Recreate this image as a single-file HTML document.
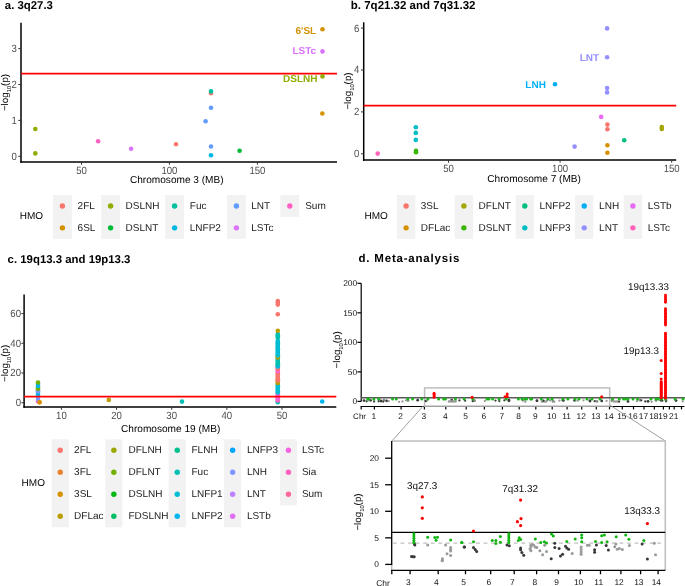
<!DOCTYPE html>
<html><head><meta charset="utf-8"><style>
html,body{margin:0;padding:0;background:#fff;}
body{width:685px;height:586px;overflow:hidden;}
svg{display:block;will-change:transform;font-family:"Liberation Sans", sans-serif;}
text{text-rendering:geometricPrecision;}
</style></head><body>
<svg width="685" height="586" viewBox="0 0 685 586">
<rect width="685" height="586" fill="#fff"/>
<text x="4.80" y="8.60" font-size="11.4" fill="#000" text-anchor="start" font-weight="bold" >a. 3q27.3</text>
<line x1="21.00" y1="22.70" x2="21.00" y2="162.75" stroke="#000" stroke-width="1.5" />
<line x1="20.25" y1="162.00" x2="337.00" y2="162.00" stroke="#000" stroke-width="1.5" />
<line x1="18.30" y1="156.30" x2="21.00" y2="156.30" stroke="#333" stroke-width="1.0" />
<text transform="translate(16.90,159.70) scale(1,1.1)" font-size="9.6" fill="#4D4D4D" text-anchor="end" font-weight="normal" >0</text>
<line x1="18.30" y1="120.40" x2="21.00" y2="120.40" stroke="#333" stroke-width="1.0" />
<text transform="translate(16.90,123.80) scale(1,1.1)" font-size="9.6" fill="#4D4D4D" text-anchor="end" font-weight="normal" >1</text>
<line x1="18.30" y1="84.50" x2="21.00" y2="84.50" stroke="#333" stroke-width="1.0" />
<text transform="translate(16.90,87.90) scale(1,1.1)" font-size="9.6" fill="#4D4D4D" text-anchor="end" font-weight="normal" >2</text>
<line x1="18.30" y1="48.60" x2="21.00" y2="48.60" stroke="#333" stroke-width="1.0" />
<text transform="translate(16.90,52.00) scale(1,1.1)" font-size="9.6" fill="#4D4D4D" text-anchor="end" font-weight="normal" >3</text>
<line x1="81.50" y1="162.00" x2="81.50" y2="164.70" stroke="#333" stroke-width="1.0" />
<text transform="translate(81.50,173.80) scale(1,1.1)" font-size="9.6" fill="#4D4D4D" text-anchor="middle" font-weight="normal" >50</text>
<line x1="169.45" y1="162.00" x2="169.45" y2="164.70" stroke="#333" stroke-width="1.0" />
<text transform="translate(169.45,173.80) scale(1,1.1)" font-size="9.6" fill="#4D4D4D" text-anchor="middle" font-weight="normal" >100</text>
<line x1="257.40" y1="162.00" x2="257.40" y2="164.70" stroke="#333" stroke-width="1.0" />
<text transform="translate(257.40,173.80) scale(1,1.1)" font-size="9.6" fill="#4D4D4D" text-anchor="middle" font-weight="normal" >150</text>
<text x="176.80" y="183.40" font-size="10.1" fill="#000" text-anchor="middle" font-weight="normal" >Chromosome 3 (MB)</text>
<text transform="translate(7.90,92.50) rotate(-90)" font-size="9.8" fill="#000" text-anchor="middle">&#8722;log<tspan font-size="5.8" dy="2.8">10</tspan><tspan dy="-2.8">(p)</tspan></text>
<line x1="21.00" y1="73.60" x2="337.00" y2="73.60" stroke="#FF0000" stroke-width="1.7" />
<circle cx="35.30" cy="129.00" r="2.3" fill="#93AA00"/>
<circle cx="35.30" cy="153.40" r="2.3" fill="#93AA00"/>
<circle cx="98.10" cy="141.30" r="2.3" fill="#FF61C3"/>
<circle cx="131.10" cy="148.70" r="2.3" fill="#DB72FB"/>
<circle cx="176.00" cy="144.30" r="2.3" fill="#F8766D"/>
<circle cx="211.00" cy="93.20" r="2.3" fill="#F8766D"/>
<circle cx="211.00" cy="91.40" r="2.3" fill="#00C19F"/>
<circle cx="211.00" cy="107.80" r="2.3" fill="#619CFF"/>
<circle cx="205.60" cy="121.20" r="2.3" fill="#619CFF"/>
<circle cx="211.00" cy="146.50" r="2.3" fill="#619CFF"/>
<circle cx="211.00" cy="155.20" r="2.3" fill="#00B9E3"/>
<circle cx="239.60" cy="150.70" r="2.3" fill="#00BA38"/>
<circle cx="322.50" cy="29.20" r="2.3" fill="#D39200"/>
<circle cx="322.50" cy="51.40" r="2.3" fill="#DB72FB"/>
<circle cx="322.50" cy="76.40" r="2.3" fill="#93AA00"/>
<circle cx="322.30" cy="113.50" r="2.3" fill="#D39200"/>
<text x="316.20" y="33.60" font-size="10" fill="#D39200" text-anchor="end" font-weight="bold" >6'SL</text>
<text x="316.20" y="54.40" font-size="10" fill="#DB72FB" text-anchor="end" font-weight="bold" >LSTc</text>
<text x="317.50" y="82.40" font-size="10" fill="#93AA00" text-anchor="end" font-weight="bold" >DSLNH</text>
<text x="19.70" y="219.20" font-size="10" fill="#000" text-anchor="start" font-weight="normal" >HMO</text>
<rect x="53.00" y="195.00" width="18.8" height="43.80" fill="#F2F2F2"/>
<circle cx="62.40" cy="205.95" r="2.7" fill="#F8766D"/>
<text x="77.60" y="208.95" font-size="10" fill="#1A1A1A" text-anchor="start" font-weight="normal" >2FL</text>
<circle cx="62.40" cy="227.85" r="2.7" fill="#D39200"/>
<text x="77.60" y="230.85" font-size="10" fill="#1A1A1A" text-anchor="start" font-weight="normal" >6SL</text>
<rect x="101.20" y="195.00" width="18.8" height="43.80" fill="#F2F2F2"/>
<circle cx="110.60" cy="205.95" r="2.7" fill="#93AA00"/>
<text x="125.60" y="208.95" font-size="10" fill="#1A1A1A" text-anchor="start" font-weight="normal" >DSLNH</text>
<circle cx="110.60" cy="227.85" r="2.7" fill="#00BA38"/>
<text x="125.60" y="230.85" font-size="10" fill="#1A1A1A" text-anchor="start" font-weight="normal" >DSLNT</text>
<rect x="165.20" y="195.00" width="18.8" height="43.80" fill="#F2F2F2"/>
<circle cx="174.60" cy="205.95" r="2.7" fill="#00C19F"/>
<text x="189.80" y="208.95" font-size="10" fill="#1A1A1A" text-anchor="start" font-weight="normal" >Fuc</text>
<circle cx="174.60" cy="227.85" r="2.7" fill="#00B9E3"/>
<text x="189.80" y="230.85" font-size="10" fill="#1A1A1A" text-anchor="start" font-weight="normal" >LNFP2</text>
<rect x="227.00" y="195.00" width="18.8" height="43.80" fill="#F2F2F2"/>
<circle cx="236.40" cy="205.95" r="2.7" fill="#619CFF"/>
<text x="251.20" y="208.95" font-size="10" fill="#1A1A1A" text-anchor="start" font-weight="normal" >LNT</text>
<circle cx="236.40" cy="227.85" r="2.7" fill="#DB72FB"/>
<text x="251.20" y="230.85" font-size="10" fill="#1A1A1A" text-anchor="start" font-weight="normal" >LSTc</text>
<rect x="280.40" y="195.00" width="18.8" height="21.90" fill="#F2F2F2"/>
<circle cx="289.80" cy="205.95" r="2.7" fill="#FF61C3"/>
<text x="305.20" y="208.95" font-size="10" fill="#1A1A1A" text-anchor="start" font-weight="normal" >Sum</text>
<text x="350.80" y="8.60" font-size="11.5" fill="#000" text-anchor="start" font-weight="bold" >b. 7q21.32 and 7q31.32</text>
<line x1="363.70" y1="22.30" x2="363.70" y2="160.75" stroke="#000" stroke-width="1.5" />
<line x1="362.95" y1="160.00" x2="676.20" y2="160.00" stroke="#000" stroke-width="1.5" />
<line x1="361.00" y1="153.80" x2="363.70" y2="153.80" stroke="#333" stroke-width="1.0" />
<text transform="translate(359.40,157.20) scale(1,1.1)" font-size="9.6" fill="#4D4D4D" text-anchor="end" font-weight="normal" >0</text>
<line x1="361.00" y1="111.90" x2="363.70" y2="111.90" stroke="#333" stroke-width="1.0" />
<text transform="translate(359.40,115.30) scale(1,1.1)" font-size="9.6" fill="#4D4D4D" text-anchor="end" font-weight="normal" >2</text>
<line x1="361.00" y1="70.00" x2="363.70" y2="70.00" stroke="#333" stroke-width="1.0" />
<text transform="translate(359.40,73.40) scale(1,1.1)" font-size="9.6" fill="#4D4D4D" text-anchor="end" font-weight="normal" >4</text>
<line x1="361.00" y1="28.10" x2="363.70" y2="28.10" stroke="#333" stroke-width="1.0" />
<text transform="translate(359.40,31.50) scale(1,1.1)" font-size="9.6" fill="#4D4D4D" text-anchor="end" font-weight="normal" >6</text>
<line x1="448.50" y1="160.00" x2="448.50" y2="162.70" stroke="#333" stroke-width="1.0" />
<text transform="translate(448.50,171.80) scale(1,1.1)" font-size="9.6" fill="#4D4D4D" text-anchor="middle" font-weight="normal" >50</text>
<line x1="560.10" y1="160.00" x2="560.10" y2="162.70" stroke="#333" stroke-width="1.0" />
<text transform="translate(560.10,171.80) scale(1,1.1)" font-size="9.6" fill="#4D4D4D" text-anchor="middle" font-weight="normal" >100</text>
<line x1="671.70" y1="160.00" x2="671.70" y2="162.70" stroke="#333" stroke-width="1.0" />
<text transform="translate(671.70,171.80) scale(1,1.1)" font-size="9.6" fill="#4D4D4D" text-anchor="middle" font-weight="normal" >150</text>
<text x="534.10" y="182.40" font-size="10.1" fill="#000" text-anchor="middle" font-weight="normal" >Chromosome 7 (MB)</text>
<text transform="translate(351.20,91.00) rotate(-90)" font-size="9.8" fill="#000" text-anchor="middle">&#8722;log<tspan font-size="5.8" dy="2.8">10</tspan><tspan dy="-2.8">(p)</tspan></text>
<line x1="363.70" y1="105.60" x2="676.20" y2="105.60" stroke="#FF0000" stroke-width="1.7" />
<circle cx="377.70" cy="153.60" r="2.3" fill="#FF62BC"/>
<circle cx="415.80" cy="127.20" r="2.3" fill="#00BFC4"/>
<circle cx="415.80" cy="132.90" r="2.3" fill="#00BFC4"/>
<circle cx="415.80" cy="139.90" r="2.3" fill="#00BFC4"/>
<circle cx="416.00" cy="150.90" r="2.3" fill="#39B600"/>
<circle cx="416.00" cy="152.30" r="2.3" fill="#39B600"/>
<circle cx="607.10" cy="28.40" r="2.3" fill="#9590FF"/>
<circle cx="607.10" cy="57.30" r="2.3" fill="#9590FF"/>
<circle cx="607.10" cy="88.00" r="2.3" fill="#9590FF"/>
<circle cx="607.10" cy="92.40" r="2.3" fill="#9590FF"/>
<circle cx="574.60" cy="146.60" r="2.3" fill="#9590FF"/>
<circle cx="555.00" cy="84.30" r="2.3" fill="#00B0F6"/>
<circle cx="601.20" cy="116.90" r="2.3" fill="#E76BF3"/>
<circle cx="607.40" cy="124.60" r="2.3" fill="#F8766D"/>
<circle cx="607.40" cy="129.30" r="2.3" fill="#F8766D"/>
<circle cx="624.20" cy="140.30" r="2.3" fill="#00BF7D"/>
<circle cx="661.80" cy="127.10" r="2.3" fill="#A3A500"/>
<circle cx="661.80" cy="128.90" r="2.3" fill="#A3A500"/>
<circle cx="607.40" cy="145.20" r="2.3" fill="#D89000"/>
<circle cx="607.40" cy="152.70" r="2.3" fill="#D89000"/>
<text x="599.20" y="60.60" font-size="10" fill="#9590FF" text-anchor="end" font-weight="bold" >LNT</text>
<text x="545.90" y="87.70" font-size="10" fill="#00B0F6" text-anchor="end" font-weight="bold" >LNH</text>
<text x="364.50" y="219.30" font-size="10" fill="#000" text-anchor="start" font-weight="normal" >HMO</text>
<rect x="396.90" y="195.00" width="18.4" height="43.80" fill="#F2F2F2"/>
<circle cx="406.10" cy="205.95" r="2.7" fill="#F8766D"/>
<text x="420.80" y="208.95" font-size="10" fill="#1A1A1A" text-anchor="start" font-weight="normal" >3SL</text>
<circle cx="406.10" cy="227.85" r="2.7" fill="#D89000"/>
<text x="420.80" y="230.85" font-size="10" fill="#1A1A1A" text-anchor="start" font-weight="normal" >DFLac</text>
<rect x="454.70" y="195.00" width="18.4" height="43.80" fill="#F2F2F2"/>
<circle cx="463.90" cy="205.95" r="2.7" fill="#A3A500"/>
<text x="478.60" y="208.95" font-size="10" fill="#1A1A1A" text-anchor="start" font-weight="normal" >DFLNT</text>
<circle cx="463.90" cy="227.85" r="2.7" fill="#39B600"/>
<text x="478.60" y="230.85" font-size="10" fill="#1A1A1A" text-anchor="start" font-weight="normal" >DSLNT</text>
<rect x="515.60" y="195.00" width="18.4" height="43.80" fill="#F2F2F2"/>
<circle cx="524.80" cy="205.95" r="2.7" fill="#00BF7D"/>
<text x="539.50" y="208.95" font-size="10" fill="#1A1A1A" text-anchor="start" font-weight="normal" >LNFP2</text>
<circle cx="524.80" cy="227.85" r="2.7" fill="#00BFC4"/>
<text x="539.50" y="230.85" font-size="10" fill="#1A1A1A" text-anchor="start" font-weight="normal" >LNFP3</text>
<rect x="575.00" y="195.00" width="18.4" height="43.80" fill="#F2F2F2"/>
<circle cx="584.20" cy="205.95" r="2.7" fill="#00B0F6"/>
<text x="599.10" y="208.95" font-size="10" fill="#1A1A1A" text-anchor="start" font-weight="normal" >LNH</text>
<circle cx="584.20" cy="227.85" r="2.7" fill="#9590FF"/>
<text x="599.10" y="230.85" font-size="10" fill="#1A1A1A" text-anchor="start" font-weight="normal" >LNT</text>
<rect x="623.70" y="195.00" width="18.4" height="43.80" fill="#F2F2F2"/>
<circle cx="632.90" cy="205.95" r="2.7" fill="#E76BF3"/>
<text x="647.70" y="208.95" font-size="10" fill="#1A1A1A" text-anchor="start" font-weight="normal" >LSTb</text>
<circle cx="632.90" cy="227.85" r="2.7" fill="#FF62BC"/>
<text x="647.70" y="230.85" font-size="10" fill="#1A1A1A" text-anchor="start" font-weight="normal" >LSTc</text>
<text x="7.60" y="262.80" font-size="11.4" fill="#000" text-anchor="start" font-weight="bold" >c. 19q13.3 and 19p13.3</text>
<line x1="24.10" y1="294.50" x2="24.10" y2="407.85" stroke="#000" stroke-width="1.5" />
<line x1="23.35" y1="407.10" x2="336.30" y2="407.10" stroke="#000" stroke-width="1.5" />
<line x1="21.40" y1="402.70" x2="24.10" y2="402.70" stroke="#333" stroke-width="1.0" />
<text transform="translate(21.00,406.10) scale(1,1.1)" font-size="9.6" fill="#4D4D4D" text-anchor="end" font-weight="normal" >0</text>
<line x1="21.40" y1="372.99" x2="24.10" y2="372.99" stroke="#333" stroke-width="1.0" />
<text transform="translate(21.00,376.39) scale(1,1.1)" font-size="9.6" fill="#4D4D4D" text-anchor="end" font-weight="normal" >20</text>
<line x1="21.40" y1="343.28" x2="24.10" y2="343.28" stroke="#333" stroke-width="1.0" />
<text transform="translate(21.00,346.68) scale(1,1.1)" font-size="9.6" fill="#4D4D4D" text-anchor="end" font-weight="normal" >40</text>
<line x1="21.40" y1="313.57" x2="24.10" y2="313.57" stroke="#333" stroke-width="1.0" />
<text transform="translate(21.00,316.97) scale(1,1.1)" font-size="9.6" fill="#4D4D4D" text-anchor="end" font-weight="normal" >60</text>
<line x1="61.40" y1="407.10" x2="61.40" y2="409.80" stroke="#333" stroke-width="1.0" />
<text transform="translate(61.40,419.20) scale(1,1.1)" font-size="9.6" fill="#4D4D4D" text-anchor="middle" font-weight="normal" >10</text>
<line x1="116.55" y1="407.10" x2="116.55" y2="409.80" stroke="#333" stroke-width="1.0" />
<text transform="translate(116.55,419.20) scale(1,1.1)" font-size="9.6" fill="#4D4D4D" text-anchor="middle" font-weight="normal" >20</text>
<line x1="171.70" y1="407.10" x2="171.70" y2="409.80" stroke="#333" stroke-width="1.0" />
<text transform="translate(171.70,419.20) scale(1,1.1)" font-size="9.6" fill="#4D4D4D" text-anchor="middle" font-weight="normal" >30</text>
<line x1="226.85" y1="407.10" x2="226.85" y2="409.80" stroke="#333" stroke-width="1.0" />
<text transform="translate(226.85,419.20) scale(1,1.1)" font-size="9.6" fill="#4D4D4D" text-anchor="middle" font-weight="normal" >40</text>
<line x1="282.00" y1="407.10" x2="282.00" y2="409.80" stroke="#333" stroke-width="1.0" />
<text transform="translate(282.00,419.20) scale(1,1.1)" font-size="9.6" fill="#4D4D4D" text-anchor="middle" font-weight="normal" >50</text>
<text x="170.70" y="431.50" font-size="10.1" fill="#000" text-anchor="middle" font-weight="normal" >Chromosome 19 (MB)</text>
<text transform="translate(7.90,363.30) rotate(-90)" font-size="9.8" fill="#000" text-anchor="middle">&#8722;log<tspan font-size="5.8" dy="2.8">10</tspan><tspan dy="-2.8">(p)</tspan></text>
<circle cx="39.50" cy="402.20" r="2.3" fill="#D69100"/>
<circle cx="38.00" cy="401.30" r="2.3" fill="#F863DF"/>
<circle cx="38.00" cy="399.00" r="2.3" fill="#7F96FF"/>
<circle cx="38.00" cy="395.00" r="2.3" fill="#00B5EE"/>
<circle cx="38.00" cy="393.00" r="2.3" fill="#00B5EE"/>
<circle cx="38.00" cy="391.20" r="2.3" fill="#7F96FF"/>
<circle cx="38.00" cy="390.20" r="2.3" fill="#7F96FF"/>
<circle cx="38.00" cy="388.80" r="2.3" fill="#6FB000"/>
<circle cx="38.00" cy="387.60" r="2.3" fill="#6FB000"/>
<circle cx="38.00" cy="386.00" r="2.3" fill="#00B5EE"/>
<circle cx="38.00" cy="384.00" r="2.3" fill="#00B5EE"/>
<circle cx="38.00" cy="382.50" r="2.3" fill="#6FB000"/>
<circle cx="39.50" cy="402.20" r="2.3" fill="#D69100"/>
<circle cx="108.80" cy="399.90" r="2.3" fill="#BC9D00"/>
<circle cx="182.00" cy="401.60" r="2.3" fill="#00C0B4"/>
<circle cx="322.20" cy="401.50" r="2.3" fill="#00B5EE"/>
<circle cx="277.80" cy="402.20" r="2.3" fill="#00C0B4"/>
<circle cx="277.80" cy="401.00" r="2.3" fill="#00C0B4"/>
<circle cx="277.80" cy="400.50" r="2.3" fill="#FF62BF"/>
<circle cx="277.80" cy="399.30" r="2.3" fill="#FF62BF"/>
<circle cx="277.80" cy="398.10" r="2.3" fill="#FF62BF"/>
<circle cx="277.80" cy="398.00" r="2.3" fill="#F863DF"/>
<circle cx="277.80" cy="396.80" r="2.3" fill="#F863DF"/>
<circle cx="277.80" cy="395.60" r="2.3" fill="#F863DF"/>
<circle cx="277.80" cy="394.40" r="2.3" fill="#F863DF"/>
<circle cx="277.80" cy="393.20" r="2.3" fill="#F863DF"/>
<circle cx="277.80" cy="392.50" r="2.3" fill="#00BDD4"/>
<circle cx="277.80" cy="391.30" r="2.3" fill="#00BDD4"/>
<circle cx="277.80" cy="390.10" r="2.3" fill="#00BDD4"/>
<circle cx="277.80" cy="388.90" r="2.3" fill="#00BDD4"/>
<circle cx="277.80" cy="387.70" r="2.3" fill="#00BDD4"/>
<circle cx="277.80" cy="386.50" r="2.3" fill="#00BDD4"/>
<circle cx="277.80" cy="385.30" r="2.3" fill="#00BDD4"/>
<circle cx="277.80" cy="384.10" r="2.3" fill="#00BDD4"/>
<circle cx="277.80" cy="383.00" r="2.3" fill="#BC9D00"/>
<circle cx="277.80" cy="381.80" r="2.3" fill="#BC9D00"/>
<circle cx="277.80" cy="380.60" r="2.3" fill="#BC9D00"/>
<circle cx="277.80" cy="380.50" r="2.3" fill="#F8766D"/>
<circle cx="277.80" cy="379.30" r="2.3" fill="#F8766D"/>
<circle cx="277.80" cy="378.10" r="2.3" fill="#F8766D"/>
<circle cx="277.80" cy="376.90" r="2.3" fill="#F8766D"/>
<circle cx="277.80" cy="375.70" r="2.3" fill="#F8766D"/>
<circle cx="277.80" cy="374.50" r="2.3" fill="#F8766D"/>
<circle cx="277.80" cy="373.30" r="2.3" fill="#F8766D"/>
<circle cx="277.80" cy="372.10" r="2.3" fill="#F8766D"/>
<circle cx="277.80" cy="371.00" r="2.3" fill="#F863DF"/>
<circle cx="277.80" cy="369.80" r="2.3" fill="#F863DF"/>
<circle cx="277.80" cy="369.00" r="2.3" fill="#F8766D"/>
<circle cx="277.80" cy="367.80" r="2.3" fill="#F8766D"/>
<circle cx="277.80" cy="366.60" r="2.3" fill="#F8766D"/>
<circle cx="277.80" cy="366.50" r="2.3" fill="#00B5EE"/>
<circle cx="277.80" cy="365.30" r="2.3" fill="#00B5EE"/>
<circle cx="277.80" cy="364.50" r="2.3" fill="#00C0B4"/>
<circle cx="277.80" cy="363.30" r="2.3" fill="#00C0B4"/>
<circle cx="277.80" cy="362.10" r="2.3" fill="#00C0B4"/>
<circle cx="277.80" cy="360.90" r="2.3" fill="#00C0B4"/>
<circle cx="277.80" cy="359.70" r="2.3" fill="#00C0B4"/>
<circle cx="277.80" cy="358.50" r="2.3" fill="#00C0B4"/>
<circle cx="277.80" cy="357.50" r="2.3" fill="#BC9D00"/>
<circle cx="277.80" cy="356.30" r="2.3" fill="#BC9D00"/>
<circle cx="277.80" cy="355.50" r="2.3" fill="#00BDD4"/>
<circle cx="277.80" cy="354.30" r="2.3" fill="#00BDD4"/>
<circle cx="277.80" cy="353.10" r="2.3" fill="#00BDD4"/>
<circle cx="277.80" cy="351.90" r="2.3" fill="#00BDD4"/>
<circle cx="277.80" cy="350.70" r="2.3" fill="#00BDD4"/>
<circle cx="277.80" cy="349.50" r="2.3" fill="#00BDD4"/>
<circle cx="277.80" cy="348.30" r="2.3" fill="#00BDD4"/>
<circle cx="277.80" cy="347.10" r="2.3" fill="#00BDD4"/>
<circle cx="277.80" cy="345.90" r="2.3" fill="#00BDD4"/>
<circle cx="277.80" cy="344.70" r="2.3" fill="#00BDD4"/>
<circle cx="277.80" cy="343.50" r="2.3" fill="#00BDD4"/>
<circle cx="277.80" cy="342.30" r="2.3" fill="#00BDD4"/>
<circle cx="277.80" cy="341.10" r="2.3" fill="#00BDD4"/>
<circle cx="277.80" cy="337.70" r="2.3" fill="#00C0B4"/>
<circle cx="277.80" cy="336.50" r="2.3" fill="#00C0B4"/>
<circle cx="277.80" cy="335.30" r="2.3" fill="#00C0B4"/>
<circle cx="277.80" cy="334.10" r="2.3" fill="#00C0B4"/>
<circle cx="277.80" cy="330.70" r="2.3" fill="#BC9D00"/>
<circle cx="277.80" cy="301.00" r="2.3" fill="#F8766D"/>
<circle cx="277.80" cy="302.80" r="2.3" fill="#F8766D"/>
<circle cx="277.80" cy="304.60" r="2.3" fill="#F8766D"/>
<circle cx="277.80" cy="314.30" r="2.3" fill="#F8766D"/>
<line x1="24.10" y1="396.70" x2="336.30" y2="396.70" stroke="#FF0000" stroke-width="1.7" />
<text x="21.60" y="486.10" font-size="10" fill="#000" text-anchor="start" font-weight="normal" >HMO</text>
<rect x="51.70" y="439.30" width="17.1" height="88.00" fill="#F2F2F2"/>
<circle cx="60.25" cy="450.30" r="2.7" fill="#F8766D"/>
<text x="74.10" y="453.30" font-size="10" fill="#1A1A1A" text-anchor="start" font-weight="normal" >2FL</text>
<circle cx="60.25" cy="472.30" r="2.7" fill="#E9842C"/>
<text x="74.10" y="475.30" font-size="10" fill="#1A1A1A" text-anchor="start" font-weight="normal" >3FL</text>
<circle cx="60.25" cy="494.30" r="2.7" fill="#D69100"/>
<text x="74.10" y="497.30" font-size="10" fill="#1A1A1A" text-anchor="start" font-weight="normal" >3SL</text>
<circle cx="60.25" cy="516.30" r="2.7" fill="#BC9D00"/>
<text x="74.10" y="519.30" font-size="10" fill="#1A1A1A" text-anchor="start" font-weight="normal" >DFLac</text>
<rect x="105.30" y="439.30" width="17.1" height="88.00" fill="#F2F2F2"/>
<circle cx="113.85" cy="450.30" r="2.7" fill="#9CA700"/>
<text x="128.50" y="453.30" font-size="10" fill="#1A1A1A" text-anchor="start" font-weight="normal" >DFLNH</text>
<circle cx="113.85" cy="472.30" r="2.7" fill="#6FB000"/>
<text x="128.50" y="475.30" font-size="10" fill="#1A1A1A" text-anchor="start" font-weight="normal" >DFLNT</text>
<circle cx="113.85" cy="494.30" r="2.7" fill="#00B813"/>
<text x="128.50" y="497.30" font-size="10" fill="#1A1A1A" text-anchor="start" font-weight="normal" >DSLNH</text>
<circle cx="113.85" cy="516.30" r="2.7" fill="#00BD61"/>
<text x="128.50" y="519.30" font-size="10" fill="#1A1A1A" text-anchor="start" font-weight="normal" >FDSLNH</text>
<rect x="168.70" y="439.30" width="17.1" height="88.00" fill="#F2F2F2"/>
<circle cx="177.25" cy="450.30" r="2.7" fill="#00C08E"/>
<text x="191.50" y="453.30" font-size="10" fill="#1A1A1A" text-anchor="start" font-weight="normal" >FLNH</text>
<circle cx="177.25" cy="472.30" r="2.7" fill="#00C0B4"/>
<text x="191.50" y="475.30" font-size="10" fill="#1A1A1A" text-anchor="start" font-weight="normal" >Fuc</text>
<circle cx="177.25" cy="494.30" r="2.7" fill="#00BDD4"/>
<text x="191.50" y="497.30" font-size="10" fill="#1A1A1A" text-anchor="start" font-weight="normal" >LNFP1</text>
<circle cx="177.25" cy="516.30" r="2.7" fill="#00B5EE"/>
<text x="191.50" y="519.30" font-size="10" fill="#1A1A1A" text-anchor="start" font-weight="normal" >LNFP2</text>
<rect x="224.10" y="439.30" width="17.1" height="88.00" fill="#F2F2F2"/>
<circle cx="232.65" cy="450.30" r="2.7" fill="#00A7FF"/>
<text x="246.90" y="453.30" font-size="10" fill="#1A1A1A" text-anchor="start" font-weight="normal" >LNFP3</text>
<circle cx="232.65" cy="472.30" r="2.7" fill="#7F96FF"/>
<text x="246.90" y="475.30" font-size="10" fill="#1A1A1A" text-anchor="start" font-weight="normal" >LNH</text>
<circle cx="232.65" cy="494.30" r="2.7" fill="#BC81FF"/>
<text x="246.90" y="497.30" font-size="10" fill="#1A1A1A" text-anchor="start" font-weight="normal" >LNT</text>
<circle cx="232.65" cy="516.30" r="2.7" fill="#E26EF7"/>
<text x="246.90" y="519.30" font-size="10" fill="#1A1A1A" text-anchor="start" font-weight="normal" >LSTb</text>
<rect x="279.90" y="439.30" width="17.1" height="66.00" fill="#F2F2F2"/>
<circle cx="288.45" cy="450.30" r="2.7" fill="#F863DF"/>
<text x="301.90" y="453.30" font-size="10" fill="#1A1A1A" text-anchor="start" font-weight="normal" >LSTc</text>
<circle cx="288.45" cy="472.30" r="2.7" fill="#FF62BF"/>
<text x="301.90" y="475.30" font-size="10" fill="#1A1A1A" text-anchor="start" font-weight="normal" >Sia</text>
<circle cx="288.45" cy="494.30" r="2.7" fill="#FF6A9A"/>
<text x="301.90" y="497.30" font-size="10" fill="#1A1A1A" text-anchor="start" font-weight="normal" >Sum</text>
<text x="358.5" y="262.2" font-size="11.5" font-weight="bold" letter-spacing="0.8" fill="#000">d. Meta-analysis</text>
<line x1="361.20" y1="283.30" x2="361.20" y2="401.40" stroke="#000" stroke-width="1.2" />
<line x1="357.40" y1="401.40" x2="361.20" y2="401.40" stroke="#000" stroke-width="1.2" />
<text x="357.20" y="404.40" font-size="8.4" fill="#111" text-anchor="end" font-weight="normal" >0</text>
<line x1="357.40" y1="371.88" x2="361.20" y2="371.88" stroke="#000" stroke-width="1.2" />
<text x="357.20" y="374.88" font-size="8.4" fill="#111" text-anchor="end" font-weight="normal" >50</text>
<line x1="357.40" y1="342.35" x2="361.20" y2="342.35" stroke="#000" stroke-width="1.2" />
<text x="357.20" y="345.35" font-size="8.4" fill="#111" text-anchor="end" font-weight="normal" >100</text>
<line x1="357.40" y1="312.82" x2="361.20" y2="312.82" stroke="#000" stroke-width="1.2" />
<text x="357.20" y="315.82" font-size="8.4" fill="#111" text-anchor="end" font-weight="normal" >150</text>
<line x1="357.40" y1="283.30" x2="361.20" y2="283.30" stroke="#000" stroke-width="1.2" />
<text x="357.20" y="286.30" font-size="8.4" fill="#111" text-anchor="end" font-weight="normal" >200</text>
<text transform="translate(340.00,349.80) rotate(-90)" font-size="9.8" fill="#000" text-anchor="middle">&#8722;log<tspan font-size="5.8" dy="2.8">10</tspan><tspan dy="-2.8">(p)</tspan></text>
<line x1="360.60" y1="406.50" x2="684.50" y2="406.50" stroke="#000" stroke-width="1.2" />
<line x1="361.20" y1="406.50" x2="361.20" y2="409.40" stroke="#000" stroke-width="1.2" />
<line x1="374.40" y1="406.50" x2="374.40" y2="409.40" stroke="#000" stroke-width="1.2" />
<text x="373.90" y="419.00" font-size="8.4" fill="#111" text-anchor="middle" font-weight="normal" >1</text>
<line x1="401.10" y1="406.50" x2="401.10" y2="409.40" stroke="#000" stroke-width="1.2" />
<text x="400.60" y="419.00" font-size="8.4" fill="#111" text-anchor="middle" font-weight="normal" >2</text>
<line x1="424.40" y1="406.50" x2="424.40" y2="409.40" stroke="#000" stroke-width="1.2" />
<text x="423.90" y="419.00" font-size="8.4" fill="#111" text-anchor="middle" font-weight="normal" >3</text>
<line x1="445.80" y1="406.50" x2="445.80" y2="409.40" stroke="#000" stroke-width="1.2" />
<text x="445.30" y="419.00" font-size="8.4" fill="#111" text-anchor="middle" font-weight="normal" >4</text>
<line x1="466.20" y1="406.50" x2="466.20" y2="409.40" stroke="#000" stroke-width="1.2" />
<text x="465.70" y="419.00" font-size="8.4" fill="#111" text-anchor="middle" font-weight="normal" >5</text>
<line x1="484.40" y1="406.50" x2="484.40" y2="409.40" stroke="#000" stroke-width="1.2" />
<text x="483.90" y="419.00" font-size="8.4" fill="#111" text-anchor="middle" font-weight="normal" >6</text>
<line x1="502.40" y1="406.50" x2="502.40" y2="409.40" stroke="#000" stroke-width="1.2" />
<text x="501.90" y="419.00" font-size="8.4" fill="#111" text-anchor="middle" font-weight="normal" >7</text>
<line x1="519.20" y1="406.50" x2="519.20" y2="409.40" stroke="#000" stroke-width="1.2" />
<text x="518.70" y="419.00" font-size="8.4" fill="#111" text-anchor="middle" font-weight="normal" >8</text>
<line x1="535.80" y1="406.50" x2="535.80" y2="409.40" stroke="#000" stroke-width="1.2" />
<text x="535.30" y="419.00" font-size="8.4" fill="#111" text-anchor="middle" font-weight="normal" >9</text>
<line x1="552.20" y1="406.50" x2="552.20" y2="409.40" stroke="#000" stroke-width="1.2" />
<text x="551.70" y="419.00" font-size="8.4" fill="#111" text-anchor="middle" font-weight="normal" >10</text>
<line x1="567.10" y1="406.50" x2="567.10" y2="409.40" stroke="#000" stroke-width="1.2" />
<text x="566.60" y="419.00" font-size="8.4" fill="#111" text-anchor="middle" font-weight="normal" >11</text>
<line x1="581.70" y1="406.50" x2="581.70" y2="409.40" stroke="#000" stroke-width="1.2" />
<text x="581.20" y="419.00" font-size="8.4" fill="#111" text-anchor="middle" font-weight="normal" >12</text>
<line x1="596.30" y1="406.50" x2="596.30" y2="409.40" stroke="#000" stroke-width="1.2" />
<text x="595.80" y="419.00" font-size="8.4" fill="#111" text-anchor="middle" font-weight="normal" >13</text>
<line x1="609.50" y1="406.50" x2="609.50" y2="409.40" stroke="#000" stroke-width="1.2" />
<text x="609.00" y="419.00" font-size="8.4" fill="#111" text-anchor="middle" font-weight="normal" >14</text>
<line x1="622.30" y1="406.50" x2="622.30" y2="409.40" stroke="#000" stroke-width="1.2" />
<text x="621.80" y="419.00" font-size="8.4" fill="#111" text-anchor="middle" font-weight="normal" >15</text>
<line x1="633.50" y1="406.50" x2="633.50" y2="409.40" stroke="#000" stroke-width="1.2" />
<text x="633.00" y="419.00" font-size="8.4" fill="#111" text-anchor="middle" font-weight="normal" >16</text>
<line x1="644.00" y1="406.50" x2="644.00" y2="409.40" stroke="#000" stroke-width="1.2" />
<text x="643.50" y="419.00" font-size="8.4" fill="#111" text-anchor="middle" font-weight="normal" >17</text>
<line x1="654.30" y1="406.50" x2="654.30" y2="409.40" stroke="#000" stroke-width="1.2" />
<text x="653.80" y="419.00" font-size="8.4" fill="#111" text-anchor="middle" font-weight="normal" >18</text>
<line x1="663.40" y1="406.50" x2="663.40" y2="409.40" stroke="#000" stroke-width="1.2" />
<text x="662.90" y="419.00" font-size="8.4" fill="#111" text-anchor="middle" font-weight="normal" >19</text>
<line x1="669.40" y1="406.50" x2="669.40" y2="409.40" stroke="#000" stroke-width="1.2" />
<line x1="674.20" y1="406.50" x2="674.20" y2="409.40" stroke="#000" stroke-width="1.2" />
<text x="673.70" y="419.00" font-size="8.4" fill="#111" text-anchor="middle" font-weight="normal" >21</text>
<line x1="681.50" y1="406.50" x2="681.50" y2="409.40" stroke="#000" stroke-width="1.2" />
<text x="366.00" y="418.90" font-size="8" fill="#111" text-anchor="end" font-weight="normal" >Chr</text>
<rect x="424.6" y="387.9" width="185.1" height="18.2" fill="none" stroke="#BDBDBD" stroke-width="1.5"/>
<line x1="423.40" y1="405.80" x2="391.90" y2="441.00" stroke="#A0A0A0" stroke-width="1.0" />
<line x1="610.20" y1="405.30" x2="665.30" y2="441.00" stroke="#A0A0A0" stroke-width="1.0" />
<circle cx="364.00" cy="400.55" r="1.4" fill="#3A3A3A"/>
<circle cx="369.70" cy="400.31" r="1.4" fill="#8C8C8C"/>
<circle cx="381.00" cy="401.01" r="1.4" fill="#3A3A3A"/>
<circle cx="384.00" cy="400.20" r="1.4" fill="#8C8C8C"/>
<circle cx="386.60" cy="400.85" r="1.4" fill="#3A3A3A"/>
<circle cx="408.00" cy="400.61" r="1.4" fill="#8C8C8C"/>
<circle cx="417.70" cy="400.18" r="1.4" fill="#3A3A3A"/>
<circle cx="426.40" cy="400.81" r="1.4" fill="#8C8C8C"/>
<circle cx="451.70" cy="400.15" r="1.4" fill="#3A3A3A"/>
<circle cx="474.60" cy="400.71" r="1.4" fill="#8C8C8C"/>
<circle cx="509.00" cy="400.20" r="1.4" fill="#3A3A3A"/>
<circle cx="523.00" cy="400.23" r="1.4" fill="#8C8C8C"/>
<circle cx="537.00" cy="400.69" r="1.4" fill="#3A3A3A"/>
<circle cx="553.00" cy="401.26" r="1.4" fill="#8C8C8C"/>
<circle cx="563.00" cy="400.27" r="1.4" fill="#3A3A3A"/>
<circle cx="575.00" cy="400.41" r="1.4" fill="#8C8C8C"/>
<circle cx="590.00" cy="400.98" r="1.4" fill="#3A3A3A"/>
<circle cx="597.00" cy="401.43" r="1.4" fill="#8C8C8C"/>
<circle cx="601.70" cy="400.91" r="1.4" fill="#3A3A3A"/>
<circle cx="612.00" cy="400.66" r="1.4" fill="#8C8C8C"/>
<circle cx="628.00" cy="401.47" r="1.4" fill="#3A3A3A"/>
<circle cx="640.00" cy="400.17" r="1.4" fill="#8C8C8C"/>
<circle cx="648.00" cy="401.30" r="1.4" fill="#3A3A3A"/>
<circle cx="656.00" cy="400.51" r="1.4" fill="#8C8C8C"/>
<circle cx="661.00" cy="400.30" r="1.4" fill="#3A3A3A"/>
<circle cx="666.00" cy="400.26" r="1.4" fill="#8C8C8C"/>
<circle cx="676.00" cy="400.53" r="1.4" fill="#3A3A3A"/>
<circle cx="449.00" cy="401.50" r="1.3" fill="#9A9A9A"/>
<circle cx="451.00" cy="401.50" r="1.3" fill="#9A9A9A"/>
<circle cx="453.00" cy="401.50" r="1.3" fill="#9A9A9A"/>
<circle cx="455.00" cy="401.50" r="1.3" fill="#9A9A9A"/>
<circle cx="542.00" cy="401.50" r="1.3" fill="#9A9A9A"/>
<circle cx="544.00" cy="401.50" r="1.3" fill="#9A9A9A"/>
<circle cx="546.00" cy="401.50" r="1.3" fill="#9A9A9A"/>
<circle cx="614.00" cy="401.50" r="1.3" fill="#9A9A9A"/>
<circle cx="616.00" cy="401.50" r="1.3" fill="#9A9A9A"/>
<circle cx="618.00" cy="401.50" r="1.3" fill="#9A9A9A"/>
<circle cx="366.63" cy="401.32" r="1.15" fill="#3C3C3C"/>
<circle cx="370.94" cy="400.40" r="1.15" fill="#3C3C3C"/>
<circle cx="374.14" cy="401.39" r="1.15" fill="#3C3C3C"/>
<circle cx="378.64" cy="401.24" r="1.15" fill="#3C3C3C"/>
<circle cx="383.23" cy="401.57" r="1.15" fill="#3C3C3C"/>
<circle cx="388.67" cy="401.22" r="1.15" fill="#9A9A9A"/>
<circle cx="399.06" cy="401.87" r="1.15" fill="#9A9A9A"/>
<circle cx="402.48" cy="401.51" r="1.15" fill="#9A9A9A"/>
<circle cx="406.01" cy="400.36" r="1.15" fill="#9A9A9A"/>
<circle cx="425.53" cy="401.03" r="1.15" fill="#3C3C3C"/>
<circle cx="450.49" cy="400.92" r="1.15" fill="#9A9A9A"/>
<circle cx="455.83" cy="401.04" r="1.15" fill="#9A9A9A"/>
<circle cx="459.41" cy="400.39" r="1.15" fill="#3C3C3C"/>
<circle cx="465.10" cy="400.70" r="1.15" fill="#3C3C3C"/>
<circle cx="472.75" cy="401.18" r="1.15" fill="#3C3C3C"/>
<circle cx="484.87" cy="400.96" r="1.15" fill="#9A9A9A"/>
<circle cx="495.48" cy="400.58" r="1.15" fill="#3C3C3C"/>
<circle cx="499.29" cy="401.08" r="1.15" fill="#3C3C3C"/>
<circle cx="504.35" cy="400.31" r="1.15" fill="#3C3C3C"/>
<circle cx="508.82" cy="401.21" r="1.15" fill="#3C3C3C"/>
<circle cx="525.32" cy="401.74" r="1.15" fill="#9A9A9A"/>
<circle cx="536.85" cy="400.94" r="1.15" fill="#3C3C3C"/>
<circle cx="543.43" cy="400.63" r="1.15" fill="#3C3C3C"/>
<circle cx="546.99" cy="400.38" r="1.15" fill="#9A9A9A"/>
<circle cx="550.00" cy="400.46" r="1.15" fill="#9A9A9A"/>
<circle cx="554.27" cy="401.70" r="1.15" fill="#9A9A9A"/>
<circle cx="559.42" cy="400.70" r="1.15" fill="#9A9A9A"/>
<circle cx="563.63" cy="400.50" r="1.15" fill="#3C3C3C"/>
<circle cx="574.24" cy="400.44" r="1.15" fill="#3C3C3C"/>
<circle cx="577.59" cy="400.72" r="1.15" fill="#9A9A9A"/>
<circle cx="583.49" cy="400.34" r="1.15" fill="#9A9A9A"/>
<circle cx="589.82" cy="400.53" r="1.15" fill="#3C3C3C"/>
<circle cx="594.72" cy="401.14" r="1.15" fill="#3C3C3C"/>
<circle cx="606.59" cy="400.89" r="1.15" fill="#9A9A9A"/>
<circle cx="619.19" cy="401.60" r="1.15" fill="#3C3C3C"/>
<circle cx="637.05" cy="401.13" r="1.15" fill="#9A9A9A"/>
<circle cx="641.29" cy="400.34" r="1.15" fill="#3C3C3C"/>
<circle cx="645.27" cy="401.41" r="1.15" fill="#3C3C3C"/>
<circle cx="651.62" cy="401.80" r="1.15" fill="#9A9A9A"/>
<circle cx="662.35" cy="400.66" r="1.15" fill="#3C3C3C"/>
<circle cx="666.04" cy="401.30" r="1.15" fill="#3C3C3C"/>
<circle cx="682.67" cy="401.36" r="1.15" fill="#9A9A9A"/>
<line x1="361.20" y1="397.80" x2="685.00" y2="397.80" stroke="#5A5A5A" stroke-width="1.5" />
<circle cx="367.70" cy="398.90" r="1.5" fill="#1BB51B"/>
<circle cx="368.70" cy="398.90" r="1.5" fill="#1BB51B"/>
<circle cx="373.80" cy="398.90" r="1.5" fill="#1BB51B"/>
<circle cx="378.70" cy="398.90" r="1.5" fill="#1BB51B"/>
<circle cx="392.50" cy="398.90" r="1.5" fill="#1BB51B"/>
<circle cx="396.30" cy="398.90" r="1.5" fill="#1BB51B"/>
<circle cx="407.80" cy="398.90" r="1.5" fill="#1BB51B"/>
<circle cx="412.60" cy="398.90" r="1.5" fill="#1BB51B"/>
<circle cx="421.80" cy="398.90" r="1.5" fill="#1BB51B"/>
<circle cx="427.90" cy="398.90" r="1.5" fill="#1BB51B"/>
<circle cx="438.60" cy="398.90" r="1.5" fill="#1BB51B"/>
<circle cx="443.60" cy="398.90" r="1.5" fill="#1BB51B"/>
<circle cx="445.50" cy="398.90" r="1.5" fill="#1BB51B"/>
<circle cx="455.40" cy="398.90" r="1.5" fill="#1BB51B"/>
<circle cx="464.10" cy="398.90" r="1.5" fill="#1BB51B"/>
<circle cx="472.80" cy="398.90" r="1.5" fill="#1BB51B"/>
<circle cx="487.00" cy="398.90" r="1.5" fill="#1BB51B"/>
<circle cx="488.90" cy="398.90" r="1.5" fill="#1BB51B"/>
<circle cx="492.60" cy="398.90" r="1.5" fill="#1BB51B"/>
<circle cx="499.10" cy="398.90" r="1.5" fill="#1BB51B"/>
<circle cx="506.30" cy="398.90" r="1.5" fill="#1BB51B"/>
<circle cx="518.40" cy="398.90" r="1.5" fill="#1BB51B"/>
<circle cx="522.00" cy="398.90" r="1.5" fill="#1BB51B"/>
<circle cx="525.00" cy="398.90" r="1.5" fill="#1BB51B"/>
<circle cx="526.60" cy="398.90" r="1.5" fill="#1BB51B"/>
<circle cx="530.60" cy="398.90" r="1.5" fill="#1BB51B"/>
<circle cx="531.70" cy="398.90" r="1.5" fill="#1BB51B"/>
<circle cx="541.40" cy="398.90" r="1.5" fill="#1BB51B"/>
<circle cx="548.00" cy="398.90" r="1.5" fill="#1BB51B"/>
<circle cx="552.10" cy="398.90" r="1.5" fill="#1BB51B"/>
<circle cx="562.80" cy="398.90" r="1.5" fill="#1BB51B"/>
<circle cx="567.90" cy="398.90" r="1.5" fill="#1BB51B"/>
<circle cx="575.00" cy="398.90" r="1.5" fill="#1BB51B"/>
<circle cx="579.00" cy="398.90" r="1.5" fill="#1BB51B"/>
<circle cx="587.00" cy="398.90" r="1.5" fill="#1BB51B"/>
<circle cx="592.00" cy="398.90" r="1.5" fill="#1BB51B"/>
<circle cx="600.00" cy="398.90" r="1.5" fill="#1BB51B"/>
<circle cx="612.50" cy="398.90" r="1.5" fill="#1BB51B"/>
<circle cx="619.30" cy="398.90" r="1.5" fill="#1BB51B"/>
<circle cx="623.50" cy="398.90" r="1.5" fill="#1BB51B"/>
<circle cx="625.50" cy="398.90" r="1.5" fill="#1BB51B"/>
<circle cx="628.00" cy="398.90" r="1.5" fill="#1BB51B"/>
<circle cx="633.00" cy="398.90" r="1.5" fill="#1BB51B"/>
<circle cx="637.50" cy="398.90" r="1.5" fill="#1BB51B"/>
<circle cx="651.00" cy="398.90" r="1.5" fill="#1BB51B"/>
<circle cx="656.00" cy="398.90" r="1.5" fill="#1BB51B"/>
<circle cx="658.40" cy="398.90" r="1.5" fill="#1BB51B"/>
<circle cx="661.50" cy="398.90" r="1.5" fill="#1BB51B"/>
<circle cx="665.50" cy="398.90" r="1.5" fill="#1BB51B"/>
<circle cx="675.00" cy="398.90" r="1.5" fill="#1BB51B"/>
<circle cx="683.00" cy="398.90" r="1.5" fill="#1BB51B"/>
<circle cx="434.10" cy="393.20" r="1.5" fill="#FF0000"/>
<circle cx="434.10" cy="394.60" r="1.5" fill="#FF0000"/>
<circle cx="434.10" cy="396.00" r="1.5" fill="#FF0000"/>
<circle cx="434.10" cy="397.20" r="1.5" fill="#FF0000"/>
<circle cx="472.10" cy="397.30" r="1.5" fill="#FF0000"/>
<circle cx="507.20" cy="394.10" r="1.5" fill="#FF0000"/>
<circle cx="507.20" cy="396.60" r="1.5" fill="#FF0000"/>
<circle cx="505.10" cy="396.70" r="1.5" fill="#FF0000"/>
<circle cx="601.70" cy="396.80" r="1.5" fill="#FF0000"/>
<circle cx="665.50" cy="295.10" r="1.45" fill="#FF0000"/>
<circle cx="665.50" cy="296.60" r="1.45" fill="#FF0000"/>
<circle cx="665.50" cy="298.10" r="1.45" fill="#FF0000"/>
<circle cx="665.50" cy="299.60" r="1.45" fill="#FF0000"/>
<circle cx="665.50" cy="301.10" r="1.45" fill="#FF0000"/>
<circle cx="665.50" cy="302.30" r="1.45" fill="#FF0000"/>
<circle cx="665.50" cy="308.70" r="1.45" fill="#FF0000"/>
<circle cx="665.50" cy="310.20" r="1.45" fill="#FF0000"/>
<circle cx="665.50" cy="311.70" r="1.45" fill="#FF0000"/>
<circle cx="665.50" cy="313.20" r="1.45" fill="#FF0000"/>
<circle cx="665.50" cy="314.70" r="1.45" fill="#FF0000"/>
<circle cx="665.50" cy="316.20" r="1.45" fill="#FF0000"/>
<circle cx="665.50" cy="317.70" r="1.45" fill="#FF0000"/>
<circle cx="665.50" cy="319.20" r="1.45" fill="#FF0000"/>
<circle cx="665.50" cy="320.70" r="1.45" fill="#FF0000"/>
<circle cx="665.50" cy="322.20" r="1.45" fill="#FF0000"/>
<circle cx="665.50" cy="323.70" r="1.45" fill="#FF0000"/>
<circle cx="665.50" cy="325.00" r="1.45" fill="#FF0000"/>
<circle cx="665.50" cy="333.20" r="1.45" fill="#FF0000"/>
<circle cx="665.50" cy="334.70" r="1.45" fill="#FF0000"/>
<circle cx="665.50" cy="336.20" r="1.45" fill="#FF0000"/>
<circle cx="665.50" cy="337.70" r="1.45" fill="#FF0000"/>
<circle cx="665.50" cy="339.20" r="1.45" fill="#FF0000"/>
<circle cx="665.50" cy="340.70" r="1.45" fill="#FF0000"/>
<circle cx="665.50" cy="342.20" r="1.45" fill="#FF0000"/>
<circle cx="665.50" cy="343.70" r="1.45" fill="#FF0000"/>
<circle cx="665.50" cy="345.20" r="1.45" fill="#FF0000"/>
<circle cx="665.50" cy="346.70" r="1.45" fill="#FF0000"/>
<circle cx="665.50" cy="348.20" r="1.45" fill="#FF0000"/>
<circle cx="665.50" cy="349.70" r="1.45" fill="#FF0000"/>
<circle cx="665.50" cy="351.20" r="1.45" fill="#FF0000"/>
<circle cx="665.50" cy="352.70" r="1.45" fill="#FF0000"/>
<circle cx="665.50" cy="354.20" r="1.45" fill="#FF0000"/>
<circle cx="665.50" cy="355.70" r="1.45" fill="#FF0000"/>
<circle cx="665.50" cy="357.20" r="1.45" fill="#FF0000"/>
<circle cx="665.50" cy="358.70" r="1.45" fill="#FF0000"/>
<circle cx="665.50" cy="360.20" r="1.45" fill="#FF0000"/>
<circle cx="665.50" cy="361.70" r="1.45" fill="#FF0000"/>
<circle cx="665.50" cy="363.20" r="1.45" fill="#FF0000"/>
<circle cx="665.50" cy="364.70" r="1.45" fill="#FF0000"/>
<circle cx="665.50" cy="366.20" r="1.45" fill="#FF0000"/>
<circle cx="665.50" cy="367.70" r="1.45" fill="#FF0000"/>
<circle cx="665.50" cy="369.20" r="1.45" fill="#FF0000"/>
<circle cx="665.50" cy="370.70" r="1.45" fill="#FF0000"/>
<circle cx="665.50" cy="372.20" r="1.45" fill="#FF0000"/>
<circle cx="665.50" cy="373.70" r="1.45" fill="#FF0000"/>
<circle cx="665.50" cy="375.20" r="1.45" fill="#FF0000"/>
<circle cx="665.50" cy="376.70" r="1.45" fill="#FF0000"/>
<circle cx="665.50" cy="378.20" r="1.45" fill="#FF0000"/>
<circle cx="665.50" cy="379.70" r="1.45" fill="#FF0000"/>
<circle cx="665.50" cy="381.20" r="1.45" fill="#FF0000"/>
<circle cx="665.50" cy="382.70" r="1.45" fill="#FF0000"/>
<circle cx="665.50" cy="384.20" r="1.45" fill="#FF0000"/>
<circle cx="665.50" cy="385.70" r="1.45" fill="#FF0000"/>
<circle cx="665.50" cy="387.20" r="1.45" fill="#FF0000"/>
<circle cx="665.50" cy="388.70" r="1.45" fill="#FF0000"/>
<circle cx="665.50" cy="390.20" r="1.45" fill="#FF0000"/>
<circle cx="665.50" cy="391.70" r="1.45" fill="#FF0000"/>
<circle cx="665.50" cy="393.20" r="1.45" fill="#FF0000"/>
<circle cx="665.50" cy="394.70" r="1.45" fill="#FF0000"/>
<circle cx="665.50" cy="396.20" r="1.45" fill="#FF0000"/>
<circle cx="665.50" cy="397.70" r="1.45" fill="#FF0000"/>
<circle cx="665.50" cy="398.00" r="1.45" fill="#FF0000"/>
<circle cx="661.20" cy="360.60" r="1.5" fill="#FF0000"/>
<circle cx="661.20" cy="373.40" r="1.5" fill="#FF0000"/>
<circle cx="661.20" cy="379.10" r="1.5" fill="#FF0000"/>
<circle cx="661.20" cy="381.80" r="1.5" fill="#FF0000"/>
<circle cx="661.20" cy="382.80" r="1.5" fill="#FF0000"/>
<circle cx="661.20" cy="383.80" r="1.5" fill="#FF0000"/>
<circle cx="661.20" cy="384.80" r="1.5" fill="#FF0000"/>
<circle cx="661.20" cy="385.80" r="1.5" fill="#FF0000"/>
<circle cx="661.20" cy="386.80" r="1.5" fill="#FF0000"/>
<circle cx="661.20" cy="387.80" r="1.5" fill="#FF0000"/>
<circle cx="661.20" cy="388.80" r="1.5" fill="#FF0000"/>
<circle cx="661.20" cy="389.80" r="1.5" fill="#FF0000"/>
<circle cx="661.20" cy="390.80" r="1.5" fill="#FF0000"/>
<circle cx="661.20" cy="391.80" r="1.5" fill="#FF0000"/>
<circle cx="661.20" cy="392.80" r="1.5" fill="#FF0000"/>
<circle cx="661.20" cy="393.80" r="1.5" fill="#FF0000"/>
<circle cx="661.20" cy="394.80" r="1.5" fill="#FF0000"/>
<circle cx="661.20" cy="395.80" r="1.5" fill="#FF0000"/>
<circle cx="661.20" cy="396.80" r="1.5" fill="#FF0000"/>
<circle cx="661.20" cy="397.80" r="1.5" fill="#FF0000"/>
<text x="668.90" y="290.00" font-size="9.8" fill="#111" text-anchor="end" font-weight="normal" >19q13.33</text>
<text x="659.00" y="353.60" font-size="9.8" fill="#111" text-anchor="end" font-weight="normal" >19p13.3</text>
<polyline points="391.7,441.0 665.3,441.0 665.3,570.4" fill="none" stroke="#BDBDBD" stroke-width="1.5"/>
<line x1="391.70" y1="564.40" x2="391.70" y2="570.40" stroke="#BDBDBD" stroke-width="1.5" />
<line x1="391.70" y1="441.00" x2="391.70" y2="565.00" stroke="#000" stroke-width="1.3" />
<line x1="385.20" y1="564.40" x2="391.70" y2="564.40" stroke="#000" stroke-width="1.3" />
<text x="379.00" y="567.40" font-size="8.4" fill="#111" text-anchor="end" font-weight="normal" >0</text>
<line x1="385.20" y1="537.85" x2="391.70" y2="537.85" stroke="#000" stroke-width="1.3" />
<text x="379.00" y="540.85" font-size="8.4" fill="#111" text-anchor="end" font-weight="normal" >5</text>
<line x1="385.20" y1="511.30" x2="391.70" y2="511.30" stroke="#000" stroke-width="1.3" />
<text x="379.00" y="514.30" font-size="8.4" fill="#111" text-anchor="end" font-weight="normal" >10</text>
<line x1="385.20" y1="484.75" x2="391.70" y2="484.75" stroke="#000" stroke-width="1.3" />
<text x="379.00" y="487.75" font-size="8.4" fill="#111" text-anchor="end" font-weight="normal" >15</text>
<line x1="385.20" y1="458.20" x2="391.70" y2="458.20" stroke="#000" stroke-width="1.3" />
<text x="379.00" y="461.20" font-size="8.4" fill="#111" text-anchor="end" font-weight="normal" >20</text>
<text transform="translate(360.80,512.00) rotate(-90)" font-size="9.8" fill="#000" text-anchor="middle">&#8722;log<tspan font-size="5.8" dy="2.8">10</tspan><tspan dy="-2.8">(p)</tspan></text>
<line x1="391.10" y1="570.40" x2="665.30" y2="570.40" stroke="#000" stroke-width="1.3" />
<line x1="391.80" y1="570.40" x2="391.80" y2="574.30" stroke="#000" stroke-width="1.3" />
<line x1="410.10" y1="570.40" x2="410.10" y2="574.30" stroke="#000" stroke-width="1.3" />
<text x="408.30" y="585.40" font-size="8.4" fill="#111" text-anchor="middle" font-weight="normal" >3</text>
<line x1="438.20" y1="570.40" x2="438.20" y2="574.30" stroke="#000" stroke-width="1.3" />
<text x="436.40" y="585.40" font-size="8.4" fill="#111" text-anchor="middle" font-weight="normal" >4</text>
<line x1="465.50" y1="570.40" x2="465.50" y2="574.30" stroke="#000" stroke-width="1.3" />
<text x="463.70" y="585.40" font-size="8.4" fill="#111" text-anchor="middle" font-weight="normal" >5</text>
<line x1="490.70" y1="570.40" x2="490.70" y2="574.30" stroke="#000" stroke-width="1.3" />
<text x="488.90" y="585.40" font-size="8.4" fill="#111" text-anchor="middle" font-weight="normal" >6</text>
<line x1="514.20" y1="570.40" x2="514.20" y2="574.30" stroke="#000" stroke-width="1.3" />
<text x="512.40" y="585.40" font-size="8.4" fill="#111" text-anchor="middle" font-weight="normal" >7</text>
<line x1="536.60" y1="570.40" x2="536.60" y2="574.30" stroke="#000" stroke-width="1.3" />
<text x="534.80" y="585.40" font-size="8.4" fill="#111" text-anchor="middle" font-weight="normal" >8</text>
<line x1="558.50" y1="570.40" x2="558.50" y2="574.30" stroke="#000" stroke-width="1.3" />
<text x="556.70" y="585.40" font-size="8.4" fill="#111" text-anchor="middle" font-weight="normal" >9</text>
<line x1="580.40" y1="570.40" x2="580.40" y2="574.30" stroke="#000" stroke-width="1.3" />
<text x="578.60" y="585.40" font-size="8.4" fill="#111" text-anchor="middle" font-weight="normal" >10</text>
<line x1="600.50" y1="570.40" x2="600.50" y2="574.30" stroke="#000" stroke-width="1.3" />
<text x="598.70" y="585.40" font-size="8.4" fill="#111" text-anchor="middle" font-weight="normal" >11</text>
<line x1="620.90" y1="570.40" x2="620.90" y2="574.30" stroke="#000" stroke-width="1.3" />
<text x="619.10" y="585.40" font-size="8.4" fill="#111" text-anchor="middle" font-weight="normal" >12</text>
<line x1="640.60" y1="570.40" x2="640.60" y2="574.30" stroke="#000" stroke-width="1.3" />
<text x="638.80" y="585.40" font-size="8.4" fill="#111" text-anchor="middle" font-weight="normal" >13</text>
<line x1="658.10" y1="570.40" x2="658.10" y2="574.30" stroke="#000" stroke-width="1.3" />
<text x="656.30" y="585.40" font-size="8.4" fill="#111" text-anchor="middle" font-weight="normal" >14</text>
<text x="389.80" y="585.60" font-size="8.4" fill="#111" text-anchor="end" font-weight="normal" >Chr</text>
<line x1="393.0" y1="543.1" x2="663.4" y2="543.1" stroke="#C0C0C0" stroke-width="1.2" stroke-dasharray="3.8,3.75"/>
<line x1="391.70" y1="532.30" x2="665.30" y2="532.30" stroke="#000" stroke-width="1.2" />
<text x="407.00" y="488.80" font-size="9.9" fill="#111" text-anchor="start" font-weight="normal" >3q27.3</text>
<text x="502.20" y="492.40" font-size="9.9" fill="#111" text-anchor="start" font-weight="normal" >7q31.32</text>
<text x="624.20" y="514.20" font-size="9.9" fill="#111" text-anchor="start" font-weight="normal" >13q33.3</text>
<circle cx="427.70" cy="545.00" r="1.5" fill="#9A9A9A"/>
<circle cx="445.60" cy="545.00" r="1.5" fill="#9A9A9A"/>
<circle cx="450.60" cy="547.50" r="1.5" fill="#9A9A9A"/>
<circle cx="450.60" cy="549.50" r="1.5" fill="#9A9A9A"/>
<circle cx="450.60" cy="551.00" r="1.5" fill="#9A9A9A"/>
<circle cx="447.00" cy="553.80" r="1.5" fill="#9A9A9A"/>
<circle cx="450.60" cy="555.60" r="1.5" fill="#9A9A9A"/>
<circle cx="442.40" cy="558.80" r="1.5" fill="#9A9A9A"/>
<circle cx="442.40" cy="560.60" r="1.5" fill="#9A9A9A"/>
<circle cx="442.10" cy="560.70" r="1.5" fill="#9A9A9A"/>
<circle cx="530.90" cy="545.30" r="1.5" fill="#9A9A9A"/>
<circle cx="532.60" cy="544.40" r="1.5" fill="#9A9A9A"/>
<circle cx="530.00" cy="548.90" r="1.5" fill="#9A9A9A"/>
<circle cx="530.90" cy="550.70" r="1.5" fill="#9A9A9A"/>
<circle cx="535.30" cy="547.10" r="1.5" fill="#9A9A9A"/>
<circle cx="530.90" cy="547.10" r="1.5" fill="#9A9A9A"/>
<circle cx="533.60" cy="545.30" r="1.5" fill="#9A9A9A"/>
<circle cx="536.80" cy="547.50" r="1.5" fill="#9A9A9A"/>
<circle cx="539.90" cy="550.70" r="1.5" fill="#9A9A9A"/>
<circle cx="542.60" cy="554.70" r="1.5" fill="#9A9A9A"/>
<circle cx="544.70" cy="545.30" r="1.5" fill="#9A9A9A"/>
<circle cx="546.50" cy="551.60" r="1.5" fill="#9A9A9A"/>
<circle cx="572.20" cy="553.40" r="1.5" fill="#9A9A9A"/>
<circle cx="581.10" cy="547.10" r="1.5" fill="#9A9A9A"/>
<circle cx="581.10" cy="549.50" r="1.5" fill="#9A9A9A"/>
<circle cx="581.10" cy="551.90" r="1.5" fill="#9A9A9A"/>
<circle cx="581.10" cy="554.30" r="1.5" fill="#9A9A9A"/>
<circle cx="587.40" cy="545.30" r="1.5" fill="#9A9A9A"/>
<circle cx="589.20" cy="545.30" r="1.5" fill="#9A9A9A"/>
<circle cx="614.70" cy="546.70" r="1.5" fill="#9A9A9A"/>
<circle cx="615.90" cy="544.10" r="1.5" fill="#9A9A9A"/>
<circle cx="617.30" cy="549.20" r="1.5" fill="#9A9A9A"/>
<circle cx="619.40" cy="548.50" r="1.5" fill="#9A9A9A"/>
<circle cx="622.30" cy="549.60" r="1.5" fill="#9A9A9A"/>
<circle cx="629.40" cy="545.50" r="1.5" fill="#9A9A9A"/>
<circle cx="654.30" cy="543.30" r="1.5" fill="#9A9A9A"/>
<circle cx="655.50" cy="554.80" r="1.5" fill="#9A9A9A"/>
<circle cx="414.20" cy="543.50" r="1.5" fill="#383838"/>
<circle cx="414.80" cy="545.00" r="1.5" fill="#383838"/>
<circle cx="411.50" cy="556.50" r="1.5" fill="#383838"/>
<circle cx="413.00" cy="556.70" r="1.5" fill="#383838"/>
<circle cx="414.20" cy="556.80" r="1.5" fill="#383838"/>
<circle cx="464.10" cy="547.10" r="1.5" fill="#383838"/>
<circle cx="464.50" cy="547.10" r="1.5" fill="#383838"/>
<circle cx="473.50" cy="547.50" r="1.5" fill="#383838"/>
<circle cx="475.20" cy="549.50" r="1.5" fill="#383838"/>
<circle cx="476.70" cy="551.60" r="1.5" fill="#383838"/>
<circle cx="507.00" cy="545.00" r="1.5" fill="#383838"/>
<circle cx="509.30" cy="545.70" r="1.5" fill="#383838"/>
<circle cx="520.60" cy="548.00" r="1.5" fill="#383838"/>
<circle cx="520.60" cy="549.80" r="1.5" fill="#383838"/>
<circle cx="521.90" cy="552.50" r="1.5" fill="#383838"/>
<circle cx="523.70" cy="555.20" r="1.5" fill="#383838"/>
<circle cx="554.80" cy="543.20" r="1.5" fill="#383838"/>
<circle cx="554.80" cy="547.50" r="1.5" fill="#383838"/>
<circle cx="559.10" cy="548.60" r="1.5" fill="#383838"/>
<circle cx="551.20" cy="558.80" r="1.5" fill="#383838"/>
<circle cx="560.50" cy="556.10" r="1.5" fill="#383838"/>
<circle cx="562.60" cy="554.30" r="1.5" fill="#383838"/>
<circle cx="565.50" cy="546.20" r="1.5" fill="#383838"/>
<circle cx="566.80" cy="548.00" r="1.5" fill="#383838"/>
<circle cx="568.60" cy="549.30" r="1.5" fill="#383838"/>
<circle cx="596.40" cy="545.00" r="1.5" fill="#383838"/>
<circle cx="594.60" cy="549.80" r="1.5" fill="#383838"/>
<circle cx="594.60" cy="552.20" r="1.5" fill="#383838"/>
<circle cx="606.20" cy="545.50" r="1.5" fill="#383838"/>
<circle cx="608.40" cy="549.90" r="1.5" fill="#383838"/>
<circle cx="642.10" cy="544.10" r="1.5" fill="#383838"/>
<circle cx="647.40" cy="559.00" r="1.5" fill="#383838"/>
<circle cx="413.90" cy="533.70" r="1.5" fill="#11B511"/>
<circle cx="413.90" cy="536.00" r="1.5" fill="#11B511"/>
<circle cx="413.90" cy="538.30" r="1.5" fill="#11B511"/>
<circle cx="413.90" cy="540.60" r="1.5" fill="#11B511"/>
<circle cx="413.90" cy="542.60" r="1.5" fill="#11B511"/>
<circle cx="427.70" cy="537.30" r="1.5" fill="#11B511"/>
<circle cx="434.80" cy="537.60" r="1.5" fill="#11B511"/>
<circle cx="437.50" cy="537.20" r="1.5" fill="#11B511"/>
<circle cx="436.10" cy="540.30" r="1.5" fill="#11B511"/>
<circle cx="450.60" cy="540.00" r="1.5" fill="#11B511"/>
<circle cx="461.70" cy="542.60" r="1.5" fill="#11B511"/>
<circle cx="461.80" cy="542.60" r="1.5" fill="#11B511"/>
<circle cx="473.50" cy="541.70" r="1.5" fill="#11B511"/>
<circle cx="492.30" cy="540.50" r="1.5" fill="#11B511"/>
<circle cx="495.90" cy="540.50" r="1.5" fill="#11B511"/>
<circle cx="495.90" cy="543.50" r="1.5" fill="#11B511"/>
<circle cx="500.40" cy="536.40" r="1.5" fill="#11B511"/>
<circle cx="500.40" cy="542.30" r="1.5" fill="#11B511"/>
<circle cx="508.80" cy="533.70" r="1.5" fill="#11B511"/>
<circle cx="508.80" cy="535.90" r="1.5" fill="#11B511"/>
<circle cx="508.80" cy="538.10" r="1.5" fill="#11B511"/>
<circle cx="508.80" cy="540.30" r="1.5" fill="#11B511"/>
<circle cx="508.80" cy="542.40" r="1.5" fill="#11B511"/>
<circle cx="519.20" cy="537.80" r="1.5" fill="#11B511"/>
<circle cx="520.60" cy="539.60" r="1.5" fill="#11B511"/>
<circle cx="518.30" cy="540.50" r="1.5" fill="#11B511"/>
<circle cx="535.30" cy="539.00" r="1.5" fill="#11B511"/>
<circle cx="540.80" cy="542.60" r="1.5" fill="#11B511"/>
<circle cx="544.30" cy="541.70" r="1.5" fill="#11B511"/>
<circle cx="546.50" cy="543.00" r="1.5" fill="#11B511"/>
<circle cx="551.50" cy="534.00" r="1.5" fill="#11B511"/>
<circle cx="553.30" cy="536.00" r="1.5" fill="#11B511"/>
<circle cx="566.80" cy="541.40" r="1.5" fill="#11B511"/>
<circle cx="575.20" cy="539.00" r="1.5" fill="#11B511"/>
<circle cx="581.70" cy="535.00" r="1.5" fill="#11B511"/>
<circle cx="581.70" cy="537.80" r="1.5" fill="#11B511"/>
<circle cx="581.70" cy="541.70" r="1.5" fill="#11B511"/>
<circle cx="595.50" cy="541.40" r="1.5" fill="#11B511"/>
<circle cx="601.70" cy="535.80" r="1.5" fill="#11B511"/>
<circle cx="604.40" cy="535.00" r="1.5" fill="#11B511"/>
<circle cx="601.70" cy="542.60" r="1.5" fill="#11B511"/>
<circle cx="607.10" cy="541.70" r="1.5" fill="#11B511"/>
<circle cx="616.20" cy="536.70" r="1.5" fill="#11B511"/>
<circle cx="625.70" cy="535.00" r="1.5" fill="#11B511"/>
<circle cx="628.90" cy="539.20" r="1.5" fill="#11B511"/>
<circle cx="643.80" cy="540.40" r="1.5" fill="#11B511"/>
<circle cx="422.30" cy="496.90" r="1.6" fill="#FF0000"/>
<circle cx="422.30" cy="507.80" r="1.6" fill="#FF0000"/>
<circle cx="422.30" cy="518.30" r="1.6" fill="#FF0000"/>
<circle cx="520.60" cy="500.10" r="1.6" fill="#FF0000"/>
<circle cx="521.00" cy="518.60" r="1.6" fill="#FF0000"/>
<circle cx="517.40" cy="521.70" r="1.6" fill="#FF0000"/>
<circle cx="520.60" cy="525.60" r="1.6" fill="#FF0000"/>
<circle cx="473.50" cy="531.00" r="1.6" fill="#FF0000"/>
<circle cx="647.40" cy="523.60" r="1.6" fill="#FF0000"/>
</svg>
</body></html>
